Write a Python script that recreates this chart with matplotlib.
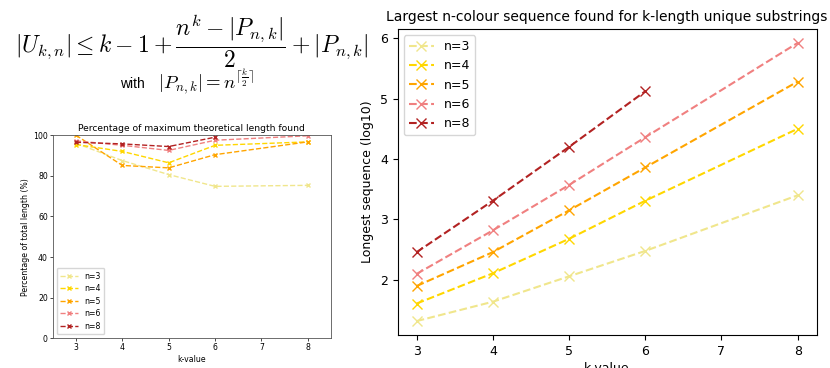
import numpy as np
import matplotlib.pyplot as plt

plt.rcParams['mathtext.fontset'] = 'cm'

k_values = [3, 4, 5, 6, 8]
k_values_n8 = [3, 4, 5, 6]
labels = ['n=3', 'n=4', 'n=5', 'n=6', 'n=8']
colours = ['khaki', 'gold', 'orange', 'lightcoral', 'firebrick']

# percentage of max theoretical length
pct_n3 = [96.0, 87.5, 80.6, 74.8, 75.3]
pct_n4 = [95.4, 92.0, 86.4, 95.0, 96.7]
pct_n5 = [100.0, 85.1, 83.9, 90.4, 96.7]
pct_n6 = [97.2, 95.0, 92.5, 97.5, 99.7]
pct_n8 = [96.5, 95.7, 94.4, 99.0]

# longest sequence (log10)
log_n3 = [1.32, 1.64, 2.06, 2.48, 3.40]
log_n4 = [1.61, 2.11, 2.68, 3.31, 4.50]
log_n5 = [1.90, 2.46, 3.15, 3.86, 5.28]
log_n6 = [2.10, 2.82, 3.57, 4.36, 5.92]
log_n8 = [2.46, 3.31, 4.20, 5.12]

pct_all = [pct_n3, pct_n4, pct_n5, pct_n6, pct_n8]
log_all = [log_n3, log_n4, log_n5, log_n6, log_n8]

fig = plt.figure(figsize=(8.3, 3.68), dpi=100)

# formula
fig.text(0.231, 0.888, r'$|U_{k,n}| \leq k - 1 + \dfrac{n^k - |P_{n,k}|}{2} + |P_{n,k}|$',
         ha='center', va='center', fontsize=17)
fig.text(0.145, 0.773, 'with', ha='left', va='center', fontsize=10,
         family='Liberation Sans')
fig.text(0.19, 0.778, r'$|P_{n,k}| = n^{\lceil \frac{k}{2} \rceil}$',
         ha='left', va='center', fontsize=13.5)

# left: percentage chart
ax1 = fig.add_axes([0.0635, 0.0807, 0.3353, 0.552])
for i in range(5):
    ks = k_values_n8 if labels[i] == 'n=8' else k_values
    ax1.plot(ks, pct_all[i], ls='--', marker='x', color=colours[i],
             lw=1.0, ms=3.5, label=labels[i])
ax1.set_ylim(0, 100)
ax1.set_xlim(2.5, 8.5)
ax1.set_title('Percentage of maximum theoretical length found', fontsize=6.6, pad=3)
ax1.set_xlabel('k-value', fontsize=5.6, labelpad=2)
ax1.set_ylabel('Percentage of total length (%)', fontsize=5.6, labelpad=2)
ax1.tick_params(labelsize=5.6, length=2, width=0.5, pad=1.5)
for s in ax1.spines.values():
    s.set_linewidth(0.6)
    s.set_color('#555555')
ax1.legend(loc='lower left', fontsize=5.6, handlelength=2.2, labelspacing=0.45,
           borderpad=0.5)

# right: log chart
ax2 = fig.add_axes([0.479, 0.0897, 0.505, 0.8315])
for i in range(5):
    ks = k_values_n8 if labels[i] == 'n=8' else k_values
    ax2.plot(ks, log_all[i], ls='--', marker='x', color=colours[i],
             lw=1.5, ms=6.5, label=labels[i])
ax2.set_title('Largest n-colour sequence found for k-length unique substrings',
              fontsize=10, pad=6)
ax2.set_xlabel('k-value', fontsize=9, labelpad=3)
ax2.set_ylabel('Longest sequence (log10)', fontsize=9, labelpad=4)
ax2.tick_params(labelsize=9)
ax2.legend(loc='upper left', fontsize=9)

fig.savefig('out.png', dpi=100)
